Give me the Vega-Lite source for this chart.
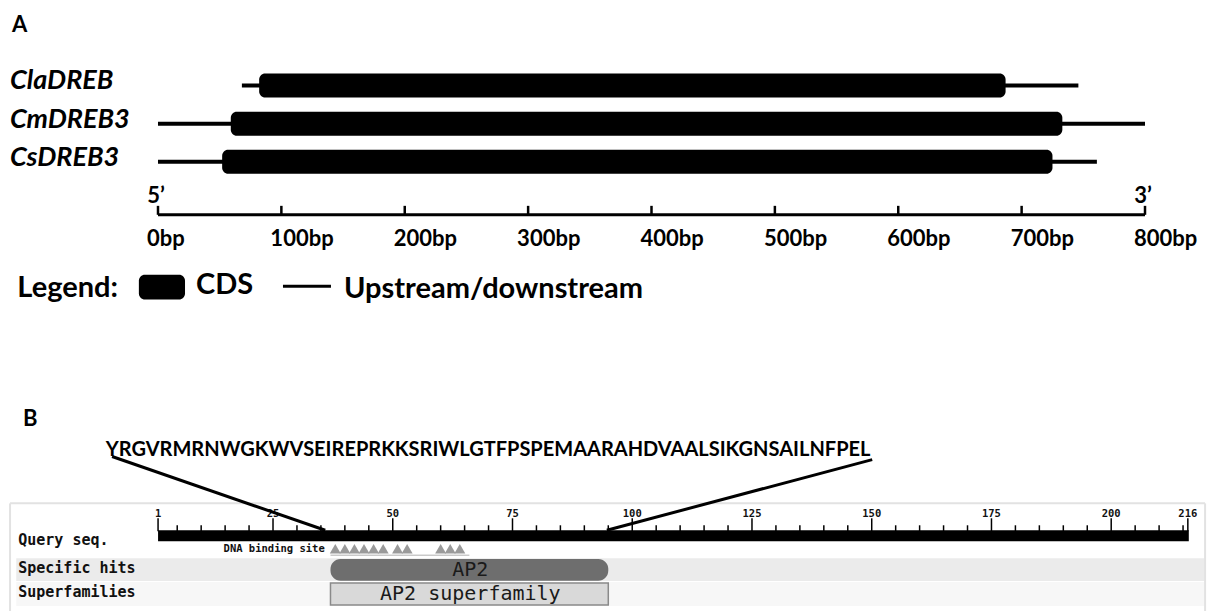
{
  "$schema": "https://vega.github.io/schema/vega-lite/v6.json",
  "width": 1207,
  "height": 613,
  "autosize": {"type": "fit", "contains": "padding"},
  "padding": 0,
  "background": "white",
  "config": {"view": {"stroke": null}, "axis": {"disable": true}},
  "datasets": {
    "genes": [
      {"gene": "ClaDREB", "track": 1, "utr_start": 68, "utr_end": 746, "cds_start": 82, "cds_end": 687},
      {"gene": "CmDREB3", "track": 2, "utr_start": 0, "utr_end": 800, "cds_start": 59, "cds_end": 733},
      {"gene": "CsDREB3", "track": 3, "utr_start": 0, "utr_end": 761, "cds_start": 52, "cds_end": 725}
    ],
    "bpticks": [
      {"bp": 0, "label": "0bp"}, {"bp": 100, "label": "100bp"}, {"bp": 200, "label": "200bp"},
      {"bp": 300, "label": "300bp"}, {"bp": 400, "label": "400bp"}, {"bp": 500, "label": "500bp"},
      {"bp": 600, "label": "600bp"}, {"bp": 700, "label": "700bp"}, {"bp": 800, "label": "800bp"}
    ],
    "ends": [{"bp": 0, "label": "5’"}, {"bp": 800, "label": "3’"}],
    "major": [
      {"res": 1, "label": "1"}, {"res": 25, "label": "25"}, {"res": 50, "label": "50"},
      {"res": 75, "label": "75"}, {"res": 100, "label": "100"}, {"res": 125, "label": "125"},
      {"res": 150, "label": "150"}, {"res": 175, "label": "175"}, {"res": 200, "label": "200"},
      {"res": 216, "label": "216"}
    ],
    "minor": [
      {"res": 5}, {"res": 10}, {"res": 15}, {"res": 20}, {"res": 30}, {"res": 35}, {"res": 40}, {"res": 45},
      {"res": 55}, {"res": 60}, {"res": 65}, {"res": 70}, {"res": 80}, {"res": 85}, {"res": 90}, {"res": 95},
      {"res": 105}, {"res": 110}, {"res": 115}, {"res": 120}, {"res": 130}, {"res": 135}, {"res": 140}, {"res": 145},
      {"res": 155}, {"res": 160}, {"res": 165}, {"res": 170}, {"res": 180}, {"res": 185}, {"res": 190}, {"res": 195},
      {"res": 205}, {"res": 210}, {"res": 215}
    ],
    "sites": [
      {"res": 38}, {"res": 40}, {"res": 42}, {"res": 44}, {"res": 46}, {"res": 48},
      {"res": 51}, {"res": 53}, {"res": 60}, {"res": 62}, {"res": 64}
    ],
    "hits": [
      {"name": "AP2", "kind": "Specific hits", "start": 37, "end": 95}
    ],
    "superfamilies": [
      {"name": "AP2 superfamily", "kind": "Superfamilies", "start": 37, "end": 95}
    ],
    "rows": [
      {"label": "Query seq.", "lane": 0.75},
      {"label": "Specific hits", "lane": 1.94},
      {"label": "Superfamilies", "lane": 2.94}
    ],
    "seq": [{"seq": "YRGVRMRNWGKWVSEIREPRKKSRIWLGTFPSPEMAARAHDVAALSIKGNSAILNFPEL"}]
  },
  "layer": [
    {
      "layer": [
        {
          "data": {"values": [{"label": "A"}]},
          "mark": {"type": "text", "font": "Lato", "fontSize": 22, "fontWeight": "bold", "align": "left", "baseline": "middle"},
          "encoding": {
            "x": {"datum": -118.3, "type": "quantitative", "scale": {"domain": [-128.06, 850.25], "nice": false, "zero": false}},
            "y": {"datum": -0.58, "type": "quantitative", "scale": {"domain": [-1.1026, 14.6154], "reverse": true, "nice": false, "zero": false}},
            "text": {"field": "label"}
          }
        },
        {
          "data": {"name": "genes"},
          "mark": {"type": "rule", "color": "black", "strokeWidth": 4},
          "encoding": {
            "x": {"field": "utr_start", "type": "quantitative", "scale": {"domain": [-128.06, 850.25], "nice": false, "zero": false}},
            "x2": {"field": "utr_end"},
            "y": {"field": "track", "type": "quantitative", "scale": {"domain": [-1.1026, 14.6154], "reverse": true, "nice": false, "zero": false}}
          }
        },
        {
          "data": {"name": "genes"},
          "mark": {"type": "bar", "color": "black", "height": 24, "cornerRadius": 6},
          "encoding": {
            "x": {"field": "cds_start", "type": "quantitative", "scale": {"domain": [-128.06, 850.25], "nice": false, "zero": false}},
            "x2": {"field": "cds_end"},
            "y": {"field": "track", "type": "quantitative", "scale": {"domain": [-1.1026, 14.6154], "reverse": true, "nice": false, "zero": false}}
          }
        },
        {
          "data": {"name": "genes"},
          "mark": {"type": "text", "font": "Lato", "fontSize": 27, "fontWeight": "bold", "fontStyle": "italic", "align": "left", "baseline": "middle", "dy": -4},
          "encoding": {
            "x": {"datum": -120, "type": "quantitative", "scale": {"domain": [-128.06, 850.25], "nice": false, "zero": false}},
            "y": {"field": "track", "type": "quantitative", "scale": {"domain": [-1.1026, 14.6154], "reverse": true, "nice": false, "zero": false}},
            "text": {"field": "gene"}
          }
        },
        {
          "data": {"values": [{"from": 0, "to": 800}]},
          "mark": {"type": "rule", "color": "black", "strokeWidth": 3},
          "encoding": {
            "x": {"field": "from", "type": "quantitative", "scale": {"domain": [-128.06, 850.25], "nice": false, "zero": false}},
            "x2": {"field": "to"},
            "y": {"datum": 4.385, "type": "quantitative", "scale": {"domain": [-1.1026, 14.6154], "reverse": true, "nice": false, "zero": false}}
          }
        },
        {
          "data": {"name": "bpticks"},
          "mark": {"type": "rule", "color": "black", "strokeWidth": 2.5},
          "encoding": {
            "x": {"field": "bp", "type": "quantitative", "scale": {"domain": [-128.06, 850.25], "nice": false, "zero": false}},
            "y": {"datum": 4.15, "type": "quantitative", "scale": {"domain": [-1.1026, 14.6154], "reverse": true, "nice": false, "zero": false}},
            "y2": {"datum": 4.385}
          }
        },
        {
          "data": {"name": "bpticks"},
          "mark": {"type": "text", "font": "Lato", "fontSize": 22, "fontWeight": "bold", "align": "left", "baseline": "middle", "dx": -11},
          "encoding": {
            "x": {"field": "bp", "type": "quantitative", "scale": {"domain": [-128.06, 850.25], "nice": false, "zero": false}},
            "y": {"datum": 5.03, "type": "quantitative", "scale": {"domain": [-1.1026, 14.6154], "reverse": true, "nice": false, "zero": false}},
            "text": {"field": "label"}
          }
        },
        {
          "data": {"name": "ends"},
          "mark": {"type": "text", "font": "Lato", "fontSize": 22, "fontWeight": "bold", "align": "center", "baseline": "middle", "dx": -2},
          "encoding": {
            "x": {"field": "bp", "type": "quantitative", "scale": {"domain": [-128.06, 850.25], "nice": false, "zero": false}},
            "y": {"datum": 3.9, "type": "quantitative", "scale": {"domain": [-1.1026, 14.6154], "reverse": true, "nice": false, "zero": false}},
            "text": {"field": "label"}
          }
        },
        {
          "data": {"values": [{"label": "Legend:"}]},
          "mark": {"type": "text", "font": "Lato", "fontSize": 29, "fontWeight": "bold", "align": "left", "baseline": "middle"},
          "encoding": {
            "x": {"datum": -114, "type": "quantitative", "scale": {"domain": [-128.06, 850.25], "nice": false, "zero": false}},
            "y": {"datum": 6.3, "type": "quantitative", "scale": {"domain": [-1.1026, 14.6154], "reverse": true, "nice": false, "zero": false}},
            "text": {"field": "label"}
          }
        },
        {
          "data": {"values": [{"item": "CDS"}]},
          "mark": {"type": "rect", "color": "black", "cornerRadius": 6},
          "encoding": {
            "x": {"datum": -15.5, "type": "quantitative", "scale": {"domain": [-128.06, 850.25], "nice": false, "zero": false}},
            "x2": {"datum": 21.9},
            "y": {"datum": 5.95, "type": "quantitative", "scale": {"domain": [-1.1026, 14.6154], "reverse": true, "nice": false, "zero": false}},
            "y2": {"datum": 6.6}
          }
        },
        {
          "data": {"values": [{"item": "CDS"}]},
          "mark": {"type": "text", "font": "Lato", "fontSize": 29, "fontWeight": "bold", "align": "left", "baseline": "middle"},
          "encoding": {
            "x": {"datum": 30.8, "type": "quantitative", "scale": {"domain": [-128.06, 850.25], "nice": false, "zero": false}},
            "y": {"datum": 6.22, "type": "quantitative", "scale": {"domain": [-1.1026, 14.6154], "reverse": true, "nice": false, "zero": false}},
            "text": {"field": "item"}
          }
        },
        {
          "data": {"values": [{"item": "Upstream/downstream"}]},
          "mark": {"type": "rule", "color": "black", "strokeWidth": 3},
          "encoding": {
            "x": {"datum": 101.3, "type": "quantitative", "scale": {"domain": [-128.06, 850.25], "nice": false, "zero": false}},
            "x2": {"datum": 140.2},
            "y": {"datum": 6.25, "type": "quantitative", "scale": {"domain": [-1.1026, 14.6154], "reverse": true, "nice": false, "zero": false}}
          }
        },
        {
          "data": {"values": [{"item": "Upstream/downstream"}]},
          "mark": {"type": "text", "font": "Lato", "fontSize": 29, "fontWeight": "bold", "align": "left", "baseline": "middle"},
          "encoding": {
            "x": {"datum": 150.8, "type": "quantitative", "scale": {"domain": [-128.06, 850.25], "nice": false, "zero": false}},
            "y": {"datum": 6.32, "type": "quantitative", "scale": {"domain": [-1.1026, 14.6154], "reverse": true, "nice": false, "zero": false}},
            "text": {"field": "item"}
          }
        }
      ]
    },
    {
      "layer": [
        {
          "data": {"values": [{"label": "B"}]},
          "mark": {"type": "text", "font": "Lato", "fontSize": 22, "fontWeight": "bold", "align": "left", "baseline": "middle"},
          "encoding": {
            "x": {"datum": -27.2, "type": "quantitative", "scale": {"domain": [-32, 220], "nice": false, "zero": false}},
            "y": {"datum": -4.3, "type": "quantitative", "scale": {"domain": [-21.8125, 3.7292], "reverse": true, "nice": false, "zero": false}},
            "text": {"field": "label"}
          }
        },
        {
          "data": {"values": [{"part": "frame"}]},
          "mark": {"type": "rect", "color": "#ebebeb"},
          "encoding": {
            "x": {"datum": -28.6, "type": "quantitative", "scale": {"domain": [-32, 220], "nice": false, "zero": false}},
            "x2": {"datum": 219.6},
            "y": {"datum": 1.52, "type": "quantitative", "scale": {"domain": [-21.8125, 3.7292], "reverse": true, "nice": false, "zero": false}},
            "y2": {"datum": 2.48}
          }
        },
        {
          "data": {"values": [{"part": "frame"}]},
          "mark": {"type": "rect", "color": "#f7f7f7"},
          "encoding": {
            "x": {"datum": -28.6, "type": "quantitative", "scale": {"domain": [-32, 220], "nice": false, "zero": false}},
            "x2": {"datum": 219.6},
            "y": {"datum": 2.52, "type": "quantitative", "scale": {"domain": [-21.8125, 3.7292], "reverse": true, "nice": false, "zero": false}},
            "y2": {"datum": 3.52}
          }
        },
        {
          "data": {"values": [{"part": "frame"}]},
          "mark": {"type": "rule", "color": "#e2e2e2", "strokeWidth": 2},
          "encoding": {
            "x": {"datum": -29.9, "type": "quantitative", "scale": {"domain": [-32, 220], "nice": false, "zero": false}},
            "x2": {"datum": 219.6},
            "y": {"datum": -0.77, "type": "quantitative", "scale": {"domain": [-21.8125, 3.7292], "reverse": true, "nice": false, "zero": false}}
          }
        },
        {
          "data": {"values": [{"side": -29.9}, {"side": 219.6}]},
          "mark": {"type": "rule", "color": "#e2e2e2", "strokeWidth": 2},
          "encoding": {
            "x": {"field": "side", "type": "quantitative", "scale": {"domain": [-32, 220], "nice": false, "zero": false}},
            "y": {"datum": -0.77, "type": "quantitative", "scale": {"domain": [-21.8125, 3.7292], "reverse": true, "nice": false, "zero": false}},
            "y2": {"datum": 3.73}
          }
        },
        {
          "data": {"name": "rows"},
          "mark": {"type": "text", "font": "DejaVu Sans Mono", "fontSize": 15, "fontWeight": "bold", "align": "left", "baseline": "middle", "color": "#111"},
          "encoding": {
            "x": {"datum": -28.2, "type": "quantitative", "scale": {"domain": [-32, 220], "nice": false, "zero": false}},
            "y": {"field": "lane", "type": "quantitative", "scale": {"domain": [-21.8125, 3.7292], "reverse": true, "nice": false, "zero": false}},
            "text": {"field": "label"}
          }
        },
        {
          "data": {"values": [{"from": 1, "to": 216.2}]},
          "mark": {"type": "rect", "color": "black"},
          "encoding": {
            "x": {"field": "from", "type": "quantitative", "scale": {"domain": [-32, 220], "nice": false, "zero": false}},
            "x2": {"field": "to"},
            "y": {"datum": 0.354, "type": "quantitative", "scale": {"domain": [-21.8125, 3.7292], "reverse": true, "nice": false, "zero": false}},
            "y2": {"datum": 0.8125}
          }
        },
        {
          "data": {"name": "minor"},
          "mark": {"type": "rule", "color": "black", "strokeWidth": 1.5},
          "encoding": {
            "x": {"field": "res", "type": "quantitative", "scale": {"domain": [-32, 220], "nice": false, "zero": false}},
            "y": {"datum": 0.146, "type": "quantitative", "scale": {"domain": [-21.8125, 3.7292], "reverse": true, "nice": false, "zero": false}},
            "y2": {"datum": 0.4}
          }
        },
        {
          "data": {"name": "major"},
          "mark": {"type": "rule", "color": "black", "strokeWidth": 1.5},
          "encoding": {
            "x": {"field": "res", "type": "quantitative", "scale": {"domain": [-32, 220], "nice": false, "zero": false}},
            "y": {"datum": -0.146, "type": "quantitative", "scale": {"domain": [-21.8125, 3.7292], "reverse": true, "nice": false, "zero": false}},
            "y2": {"datum": 0.4}
          }
        },
        {
          "data": {"name": "major"},
          "mark": {"type": "text", "font": "DejaVu Sans Mono", "fontSize": 10.5, "fontWeight": "bold", "align": "center", "baseline": "middle", "color": "#111"},
          "encoding": {
            "x": {"field": "res", "type": "quantitative", "scale": {"domain": [-32, 220], "nice": false, "zero": false}},
            "y": {"datum": -0.33, "type": "quantitative", "scale": {"domain": [-21.8125, 3.7292], "reverse": true, "nice": false, "zero": false}},
            "text": {"field": "label"}
          }
        },
        {
          "data": {"values": [{"label": "DNA binding site"}]},
          "mark": {"type": "text", "font": "DejaVu Sans Mono", "fontSize": 10.5, "fontWeight": "bold", "align": "right", "baseline": "middle", "color": "#111"},
          "encoding": {
            "x": {"datum": 35.8, "type": "quantitative", "scale": {"domain": [-32, 220], "nice": false, "zero": false}},
            "y": {"datum": 1.146, "type": "quantitative", "scale": {"domain": [-21.8125, 3.7292], "reverse": true, "nice": false, "zero": false}},
            "text": {"field": "label"}
          }
        },
        {
          "data": {"values": [{"from": 37, "to": 66}]},
          "mark": {"type": "rule", "color": "#b0b0b0", "strokeWidth": 1},
          "encoding": {
            "x": {"field": "from", "type": "quantitative", "scale": {"domain": [-32, 220], "nice": false, "zero": false}},
            "x2": {"field": "to"},
            "y": {"datum": 1.396, "type": "quantitative", "scale": {"domain": [-21.8125, 3.7292], "reverse": true, "nice": false, "zero": false}}
          }
        },
        {
          "data": {"name": "sites"},
          "mark": {"type": "point", "shape": "triangle-up", "filled": true, "color": "#9a9a9a", "size": 120, "opacity": 1},
          "encoding": {
            "x": {"field": "res", "type": "quantitative", "scale": {"domain": [-32, 220], "nice": false, "zero": false}},
            "y": {"datum": 1.13, "type": "quantitative", "scale": {"domain": [-21.8125, 3.7292], "reverse": true, "nice": false, "zero": false}}
          }
        },
        {
          "data": {"name": "hits"},
          "mark": {"type": "rect", "color": "#6e6e6e", "cornerRadius": 10},
          "encoding": {
            "x": {"field": "start", "type": "quantitative", "scale": {"domain": [-32, 220], "nice": false, "zero": false}},
            "x2": {"field": "end"},
            "y": {"datum": 1.56, "type": "quantitative", "scale": {"domain": [-21.8125, 3.7292], "reverse": true, "nice": false, "zero": false}},
            "y2": {"datum": 2.46}
          }
        },
        {
          "data": {"name": "hits"},
          "mark": {"type": "text", "font": "DejaVu Sans Mono", "fontSize": 20, "align": "center", "baseline": "middle", "color": "#1a1a1a"},
          "encoding": {
            "x": {"datum": 66.2, "type": "quantitative", "scale": {"domain": [-32, 220], "nice": false, "zero": false}},
            "y": {"datum": 2.0, "type": "quantitative", "scale": {"domain": [-21.8125, 3.7292], "reverse": true, "nice": false, "zero": false}},
            "text": {"field": "name"}
          }
        },
        {
          "data": {"name": "superfamilies"},
          "mark": {"type": "rect", "fill": "#d9d9d9", "stroke": "#8a8a8a", "strokeWidth": 1.5},
          "encoding": {
            "x": {"field": "start", "type": "quantitative", "scale": {"domain": [-32, 220], "nice": false, "zero": false}},
            "x2": {"field": "end"},
            "y": {"datum": 2.56, "type": "quantitative", "scale": {"domain": [-21.8125, 3.7292], "reverse": true, "nice": false, "zero": false}},
            "y2": {"datum": 3.48}
          }
        },
        {
          "data": {"name": "superfamilies"},
          "mark": {"type": "text", "font": "DejaVu Sans Mono", "fontSize": 20, "align": "center", "baseline": "middle", "color": "#1a1a1a"},
          "encoding": {
            "x": {"datum": 66.2, "type": "quantitative", "scale": {"domain": [-32, 220], "nice": false, "zero": false}},
            "y": {"datum": 3.02, "type": "quantitative", "scale": {"domain": [-21.8125, 3.7292], "reverse": true, "nice": false, "zero": false}},
            "text": {"field": "name"}
          }
        },
        {
          "data": {"name": "seq"},
          "mark": {"type": "text", "font": "Lato", "fontSize": 20, "fontWeight": "bold", "align": "left", "baseline": "middle", "color": "black"},
          "encoding": {
            "x": {"datum": -9.9, "type": "quantitative", "scale": {"domain": [-32, 220], "nice": false, "zero": false}},
            "y": {"datum": -3.02, "type": "quantitative", "scale": {"domain": [-21.8125, 3.7292], "reverse": true, "nice": false, "zero": false}},
            "text": {"field": "seq"}
          }
        },
        {
          "data": {"values": [{"link": "left"}]},
          "mark": {"type": "rule", "color": "black", "strokeWidth": 3},
          "encoding": {
            "x": {"datum": -8.6, "type": "quantitative", "scale": {"domain": [-32, 220], "nice": false, "zero": false}},
            "x2": {"datum": 35.9},
            "y": {"datum": -2.73, "type": "quantitative", "scale": {"domain": [-21.8125, 3.7292], "reverse": true, "nice": false, "zero": false}},
            "y2": {"datum": 0.354}
          }
        },
        {
          "data": {"values": [{"link": "right"}]},
          "mark": {"type": "rule", "color": "black", "strokeWidth": 3},
          "encoding": {
            "x": {"datum": 150.1, "type": "quantitative", "scale": {"domain": [-32, 220], "nice": false, "zero": false}},
            "x2": {"datum": 94.7},
            "y": {"datum": -2.6, "type": "quantitative", "scale": {"domain": [-21.8125, 3.7292], "reverse": true, "nice": false, "zero": false}},
            "y2": {"datum": 0.354}
          }
        }
      ]
    }
  ],
  "resolve": {"scale": {"x": "independent", "y": "independent"}}
}
